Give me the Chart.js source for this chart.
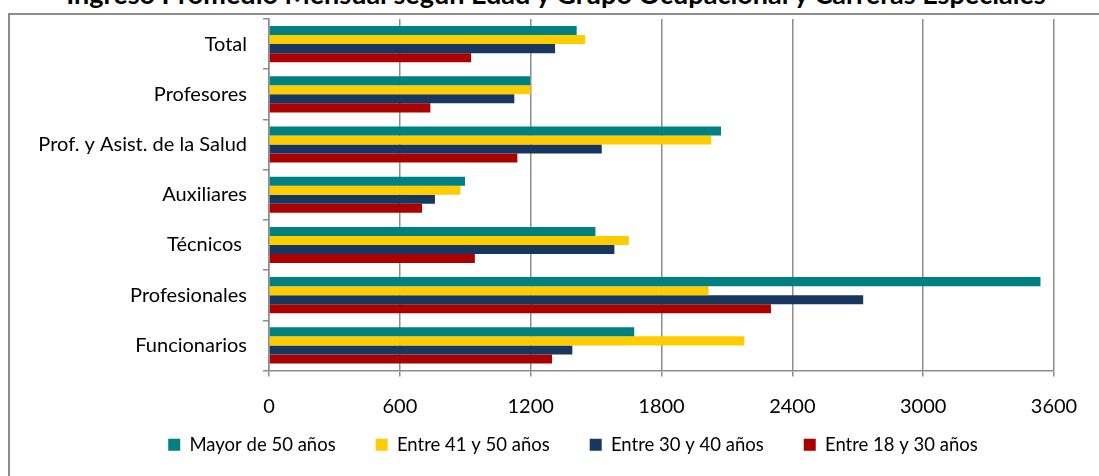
<!DOCTYPE html>
<html>
<head>
<meta charset="utf-8">
<script src="https://cdn.jsdelivr.net/npm/chart.js@4/dist/chart.umd.min.js"></script>
<style>
  html, body { margin: 0; padding: 0; background: #fff; overflow: hidden; }
  #frame { position: absolute; left: 8px; top: 13px; width: 1200px; height: 600px;
           border-left: 2px solid #8c8c8c; border-top: 2px solid #8c8c8c; }
  #title { position: absolute; left: 0; top: -20px; width: 1112px; text-align: center;
           font: bold 27px/27px Lato, "Open Sans", sans-serif; color: #000; white-space: nowrap; }
  #wrap { position: absolute; left: 0; top: 0; width: 1099px; height: 505px; }
</style>
</head>
<body>
<div id="frame"></div>
<div id="title">Ingreso Promedio Mensual según Edad y Grupo Ocupacional y Carreras Especiales</div>
<div id="wrap"><canvas id="ingresoChart"></canvas></div>
<script>
    var categories = ['Total', 'Profesores', 'Prof. y Asist. de la Salud', 'Auxiliares', 'Técnicos ', 'Profesionales', 'Funcionarios'];
    var seriesNames = ['Mayor de 50 años', 'Entre 41 y 50 años', 'Entre 30 y 40 años', 'Entre 18 y 30 años'];
    var mayor50 = [1411, 1197, 2073, 899, 1497, 3538, 1675];
    var entre41y50 = [1450, 1200, 2028, 878, 1650, 2016, 2180];
    var entre30y40 = [1312, 1125, 1526, 761, 1584, 2725, 1391];
    var entre18y30 = [927, 740, 1139, 702, 944, 2302, 1298];
    var xTicks = [0, 600, 1200, 1800, 2400, 3000, 3600];

    var colors = ['#008080', '#ffcc00', '#17375e', '#aa0000'];
    var fontFamily = 'Lato, "Open Sans", sans-serif';
    var gridColor = '#8c8c8c';

    var values = [mayor50, entre41y50, entre30y40, entre18y30];
    var datasets = seriesNames.map(function (name, i) {
        return {
            label: name,
            data: values[i],
            backgroundColor: colors[i],
            borderWidth: 0,
            categoryPercentage: 0.72,
            barPercentage: 1.0
        };
    });

    // legend sits closer to the axis labels and a bit to the right, like the original
    var legendShift = {
        id: 'legendShift',
        afterLayout: function (chart) {
            var lg = chart.legend;
            if (!lg) return;
            lg.top -= 41; lg.bottom -= 41;
            lg.left += 46; lg.right += 46;
        }
    };

    var ctx = document.getElementById('ingresoChart');
    var ingresoChart = new Chart(ctx, {
        type: 'bar',
        data: {
            labels: categories,
            datasets: datasets
        },
        plugins: [legendShift],
        options: {
            indexAxis: 'y',
            responsive: true,
            maintainAspectRatio: false,
            animation: false,
            layout: {
                padding: { left: 0, right: 45, top: 19, bottom: 0 }
            },
            plugins: {
                title: { display: false },
                legend: {
                    position: 'bottom',
                    labels: {
                        color: '#000',
                        font: { family: fontFamily, size: 18.5 },
                        boxWidth: 12,
                        boxHeight: 12,
                        padding: 40
                    }
                },
                tooltip: { enabled: false }
            },
            scales: {
                x: {
                    min: 0,
                    max: 3600,
                    afterBuildTicks: function (scale) {
                        scale.ticks = xTicks.map(function (v) { return { value: v }; });
                    },
                    grid: {
                        color: gridColor,
                        lineWidth: 1.5,
                        tickLength: 6
                    },
                    border: { color: gridColor, width: 1.5 },
                    ticks: {
                        color: '#000',
                        padding: 18,
                        maxRotation: 0,
                        font: { family: fontFamily, size: 20 },
                        callback: function (value) { return String(value); }
                    }
                },
                y: {
                    afterFit: function (scale) {
                        scale.width = 269;
                        scale.paddingTop = 0;
                        scale.paddingBottom = 0;
                    },
                    grid: {
                        drawOnChartArea: false,
                        color: gridColor,
                        lineWidth: 1.5,
                        tickLength: 6
                    },
                    border: { color: gridColor, width: 1.5 },
                    ticks: {
                        color: '#000',
                        padding: 16,
                        font: { family: fontFamily, size: 20 }
                    }
                }
            }
        }
    });
</script>
</body>
</html>
